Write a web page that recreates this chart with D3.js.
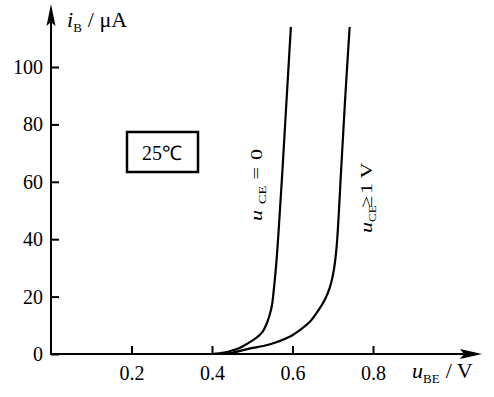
<!DOCTYPE html>
<html>
<head>
<meta charset="utf-8">
<script src="https://cdn.jsdelivr.net/npm/d3@7"></script>
<style>
	body { margin: 0; background: #fff; }
	text { font-family: "Times New Roman", "Liberation Serif", serif; fill: #000; }
</style>
</head>
<body>
<div id="chart"></div>
<script>
// data
var xTicks = [0.2, 0.4, 0.6, 0.8];
var yTicks = [0, 20, 40, 60, 80, 100];

var uBE_ce0 = [0.40, 0.43, 0.45, 0.47, 0.49, 0.51, 0.525, 0.535, 0.543, 0.549, 0.554, 0.56, 0.566, 0.575, 0.585, 0.596];
var iB_ce0  = [0, 0.5, 1.2, 2.2, 3.8, 5.6, 7.6, 10.3, 13.5, 17, 23, 32, 44, 64, 88, 114];

var uBE_ce1 = [0.42, 0.45, 0.49, 0.54, 0.59, 0.62, 0.645, 0.66, 0.68, 0.693, 0.703, 0.71, 0.72, 0.73, 0.742];
var iB_ce1  = [0, 0.4, 1.8, 3.2, 5.8, 8.5, 11.5, 14.3, 18.8, 23.3, 29.5, 38, 62, 87, 114];

var width = 494, height = 397;
var origin = {x: 51, y: 354};
var serif = '"Times New Roman", "Liberation Serif", serif';

var xscale = d3.scaleLinear().domain([0, 0.8]).range([origin.x, 373]);
var yscale = d3.scaleLinear().domain([0, 100]).range([origin.y, 67]);

var svg = d3.select('#chart').append('svg')
	.attr('width', width)
	.attr('height', height);

// axes
var haxis = d3.axisBottom(xscale).tickValues(xTicks).tickSize(-8).tickPadding(12)
	.tickFormat(d3.format('.1f'));
var vaxis = d3.axisLeft(yscale).tickValues(yTicks).tickSize(-8).tickPadding(8);

var hguide = svg.append('g').attr('transform', 'translate(0,' + origin.y + ')');
haxis(hguide);
var vguide = svg.append('g').attr('transform', 'translate(' + origin.x + ',0)');
vaxis(vguide);

svg.selectAll('.domain').remove();
[hguide, vguide].forEach(function(g) {
	g.attr('font-family', serif).attr('font-size', 20);
	g.selectAll('line').style('stroke', 'black').style('stroke-width', 2);
	g.selectAll('text').style('font-family', serif).style('font-size', '20px');
});

// axis lines with arrows
svg.append('line')
	.attr('x1', origin.x).attr('y1', origin.y)
	.attr('x2', 472).attr('y2', origin.y)
	.style('stroke', 'black').style('stroke-width', 2);
svg.append('line')
	.attr('x1', origin.x).attr('y1', origin.y + 1)
	.attr('x2', origin.x).attr('y2', 14)
	.style('stroke', 'black').style('stroke-width', 2);
svg.append('path')
	.attr('d', 'M482,354 L460,349 L464,354 L460,359 Z')
	.style('fill', 'black');
svg.append('path')
	.attr('d', 'M51,4 L46.5,26 L51,22 L55.5,26 Z')
	.style('fill', 'black');

// curves
var line = d3.line()
	.x(function(d) { return xscale(d[0]); })
	.y(function(d) { return yscale(d[1]); })
	.curve(d3.curveCatmullRom.alpha(0.5));

[[uBE_ce0, iB_ce0], [uBE_ce1, iB_ce1]].forEach(function(s) {
	svg.append('path')
		.datum(d3.zip(s[0], s[1]))
		.attr('d', line)
		.style('fill', 'none')
		.style('stroke', 'black')
		.style('stroke-width', 2.2);
});

// axis labels
var ylab = svg.append('text').attr('x', 67).attr('y', 27).style('font-size', '22px');
ylab.append('tspan').style('font-style', 'italic').text('i');
ylab.append('tspan').attr('dy', 5).style('font-size', '13px').text('B');
ylab.append('tspan').attr('dy', -5).attr('dx', 6).text('/ μA');

var xlab = svg.append('text').attr('x', 412).attr('y', 378).style('font-size', '22px');
xlab.append('tspan').style('font-style', 'italic').text('u');
xlab.append('tspan').attr('dy', 5).style('font-size', '13px').text('BE');
xlab.append('tspan').attr('dy', -5).attr('dx', 6).text('/ V');

// curve labels, stretched along the reading direction as in the picture
var l1 = svg.append('text')
	.attr('transform', 'translate(262,221) rotate(-90) scale(1.3,1)')
	.style('font-size', '17px');
l1.append('tspan').attr('x', 0).style('font-style', 'italic').text('u');
l1.append('tspan').attr('x', 13).attr('dy', 4).style('font-size', '11px').text('CE');
l1.append('tspan').attr('x', 32).attr('dy', -4).text('=');
l1.append('tspan').attr('x', 47).text('0');

var l2 = svg.append('text')
	.attr('transform', 'translate(372,233) rotate(-90) scale(1.3,1)')
	.style('font-size', '17px');
l2.append('tspan').attr('x', 0).style('font-style', 'italic').text('u');
l2.append('tspan').attr('x', 8.5).attr('dy', 4).style('font-size', '10px').text('CE');
l2.append('tspan').attr('x', 19).attr('dy', -4).text('≥');
l2.append('tspan').attr('x', 30).text('1');
l2.append('tspan').attr('x', 42).text('V');

// temperature box
svg.append('rect')
	.attr('x', 127).attr('y', 132)
	.attr('width', 71).attr('height', 40)
	.style('fill', 'none')
	.style('stroke', 'black')
	.style('stroke-width', 2.5);
svg.append('text')
	.attr('x', 162).attr('y', 160)
	.attr('text-anchor', 'middle')
	.style('font-size', '20px')
	.text('25℃');
</script>
</body>
</html>
